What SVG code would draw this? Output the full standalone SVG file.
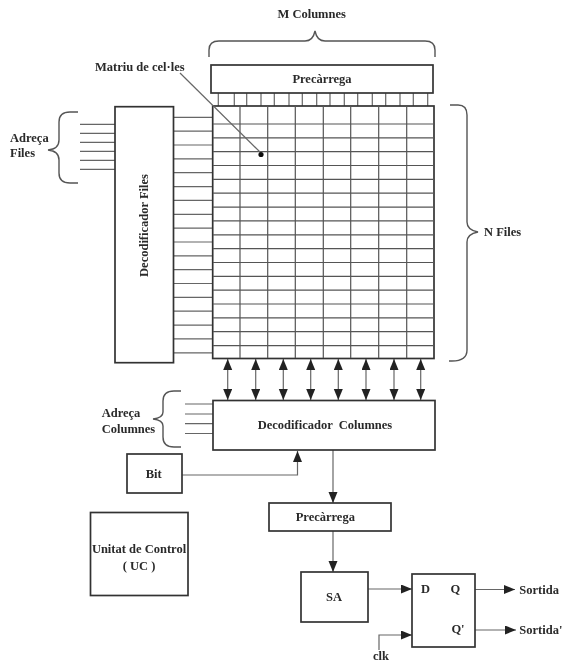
<svg xmlns="http://www.w3.org/2000/svg" width="563" height="663" viewBox="0 0 563 663">
<style>
text{font-family:"Liberation Serif",serif;font-weight:bold;font-size:12.5px;fill:#2a2a2a}
.m{text-anchor:middle}
.b{fill:#fff;stroke:#333;stroke-width:1.7}
.l{fill:none;stroke:#666;stroke-width:1.2}
.g{fill:none;stroke:#555;stroke-width:1.2}
.c{fill:none;stroke:#555;stroke-width:1.4}
</style>
<defs>
<marker id="a" markerUnits="userSpaceOnUse" markerWidth="12" markerHeight="12" refX="11" refY="4.500" orient="auto-start-reverse"><path d="M0 0L11 4.500L0 9Z" fill="#222"/></marker>
<filter id="soft" x="0" y="0" width="100%" height="100%"><feGaussianBlur stdDeviation="0.4"/></filter>
</defs>
<rect width="563" height="663" fill="#fff"/>
<g filter="url(#soft)">
<g id="braces">
<path class="c" d="M209 57V50Q209 41 219 41H305Q313 41 315 31Q317 41 325 41H425Q435 41 435 50V57"/>
<path class="c" d="M450 105H458Q467 105 467 115V222Q467 230 478 232Q467 234 467 242V350Q467 361 452 361H449"/>
<path class="c" d="M78 112H70Q59 112 59 122V140Q59 149 48 150Q59 151 59 160V173Q59 183 70 183H78"/>
<path class="c" d="M181 391H174Q163 391 163 401V412Q163 418 153 419Q163 420 163 426V437Q163 447 174 447H181"/>
</g>
<g id="connectors">
<path class="l" d="M80 124.300H115M80 133.300H115M80 142.300H115M80 151.300H115M80 160.300H115M80 169.300H115"/>
<path class="l" d="M174 117.300H213M174 131.200H213M174 145H213M174 158.900H213M174 172.700H213M174 186.600H213M174 200.400H213M174 214.300H213M174 228.100H213M174 242H213M174 255.800H213M174 269.700H213M174 283.500H213M174 297.400H213M174 311.200H213M174 325.100H213M174 338.900H213M174 352.800H213"/>
<path class="l" d="M185 404H213M185 414H213M185 423.700H213M185 433.500H213"/>
<path class="l" d="M218.300 93V106M234.300 93V106M246.700 93V106M261 93V106M274.300 93V106M289 93V106M302.300 93V106M316.700 93V106M330 93V106M344.300 93V106M357.700 93V106M372.300 93V106M385.700 93V106M400 93V106M413.300 93V106M427.700 93V106"/>
<path class="l" d="M227.700 359V400" marker-start="url(#a)" marker-end="url(#a)"/>
<path class="l" d="M255.700 359V400" marker-start="url(#a)" marker-end="url(#a)"/>
<path class="l" d="M283.300 359V400" marker-start="url(#a)" marker-end="url(#a)"/>
<path class="l" d="M310.700 359V400" marker-start="url(#a)" marker-end="url(#a)"/>
<path class="l" d="M338.300 359V400" marker-start="url(#a)" marker-end="url(#a)"/>
<path class="l" d="M366 359V400" marker-start="url(#a)" marker-end="url(#a)"/>
<path class="l" d="M394 359V400" marker-start="url(#a)" marker-end="url(#a)"/>
<path class="l" d="M420.700 359V400" marker-start="url(#a)" marker-end="url(#a)"/>
<path class="l" d="M182 475H297.500V451" marker-end="url(#a)"/>
<path class="l" d="M333 450V503" marker-end="url(#a)"/>
<path class="l" d="M333 531V572" marker-end="url(#a)"/>
<path class="l" d="M368 589H412" marker-end="url(#a)"/>
<path class="l" d="M475 589.500H515" marker-end="url(#a)"/>
<path class="l" d="M475 630H516" marker-end="url(#a)"/>
<path class="l" d="M379 650V635H412" marker-end="url(#a)"/>
</g>
<g id="matrix">
<rect class="b" x="212.700" y="106" width="221.300" height="252.500"/>
<path class="g" d="M240 106V358M267.700 106V358M295.300 106V358M323.300 106V358M350.700 106V358M378.700 106V358M406.700 106V358"/>
<path class="g" d="M213 124H434M213 137.800H434M213 151.700H434M213 165.500H434M213 179.400H434M213 193.200H434M213 207.100H434M213 220.900H434M213 234.800H434M213 248.600H434M213 262.500H434M213 276.300H434M213 290.200H434M213 304H434M213 317.900H434M213 331.700H434M213 345.600H434"/>
<path class="l" d="M180 73L262 154"/>
<circle cx="261" cy="154.500" r="2.600" fill="#111"/>
<text x="95" y="71">Matriu de cel·les</text>
</g>
<g id="precarrega-top"><rect class="b" x="211" y="65" width="222" height="28"/><text class="m" x="322" y="83">Precàrrega</text></g>
<g id="decodificador-files"><rect class="b" x="115" y="106.700" width="58.500" height="256"/><text class="m" transform="translate(147.500 225.500) rotate(-90)">Decodificador Files</text></g>
<g id="decodificador-columnes"><rect class="b" x="213" y="400.500" width="222" height="49.500"/><text class="m" x="325" y="429" xml:space="preserve">Decodificador  Columnes</text></g>
<g id="bit"><rect class="b" x="127" y="454" width="55" height="39"/><text class="m" x="153.700" y="478">Bit</text></g>
<g id="unitat"><rect class="b" x="90.500" y="512.500" width="97.500" height="83"/><text class="m" x="139" y="553">Unitat de Control</text><text class="m" x="139" y="570">( UC )</text></g>
<g id="precarrega-bottom"><rect class="b" x="269" y="503" width="122" height="28"/><text class="m" x="325.300" y="520.500">Precàrrega</text></g>
<g id="sa"><rect class="b" x="301" y="572" width="67" height="50"/><text class="m" x="334" y="600.500">SA</text></g>
<g id="flipflop"><rect class="b" x="412" y="574" width="63" height="73"/><text class="m" x="425.500" y="593">D</text><text class="m" x="455.300" y="593">Q</text><text class="m" x="458" y="633">Q'</text></g>
<g id="labels">
<text class="m" x="311.700" y="17.500">M Columnes</text>
<text x="484" y="235.500">N Files</text>
<text x="10" y="141.500">Adreça</text><text x="10" y="156.500">Files</text>
<text x="101.700" y="417">Adreça</text><text x="101.700" y="433">Columnes</text>
<text x="519.300" y="594">Sortida</text><text x="519.300" y="634">Sortida'</text>
<text x="373" y="660">clk</text>
</g>
</g>
</svg>
